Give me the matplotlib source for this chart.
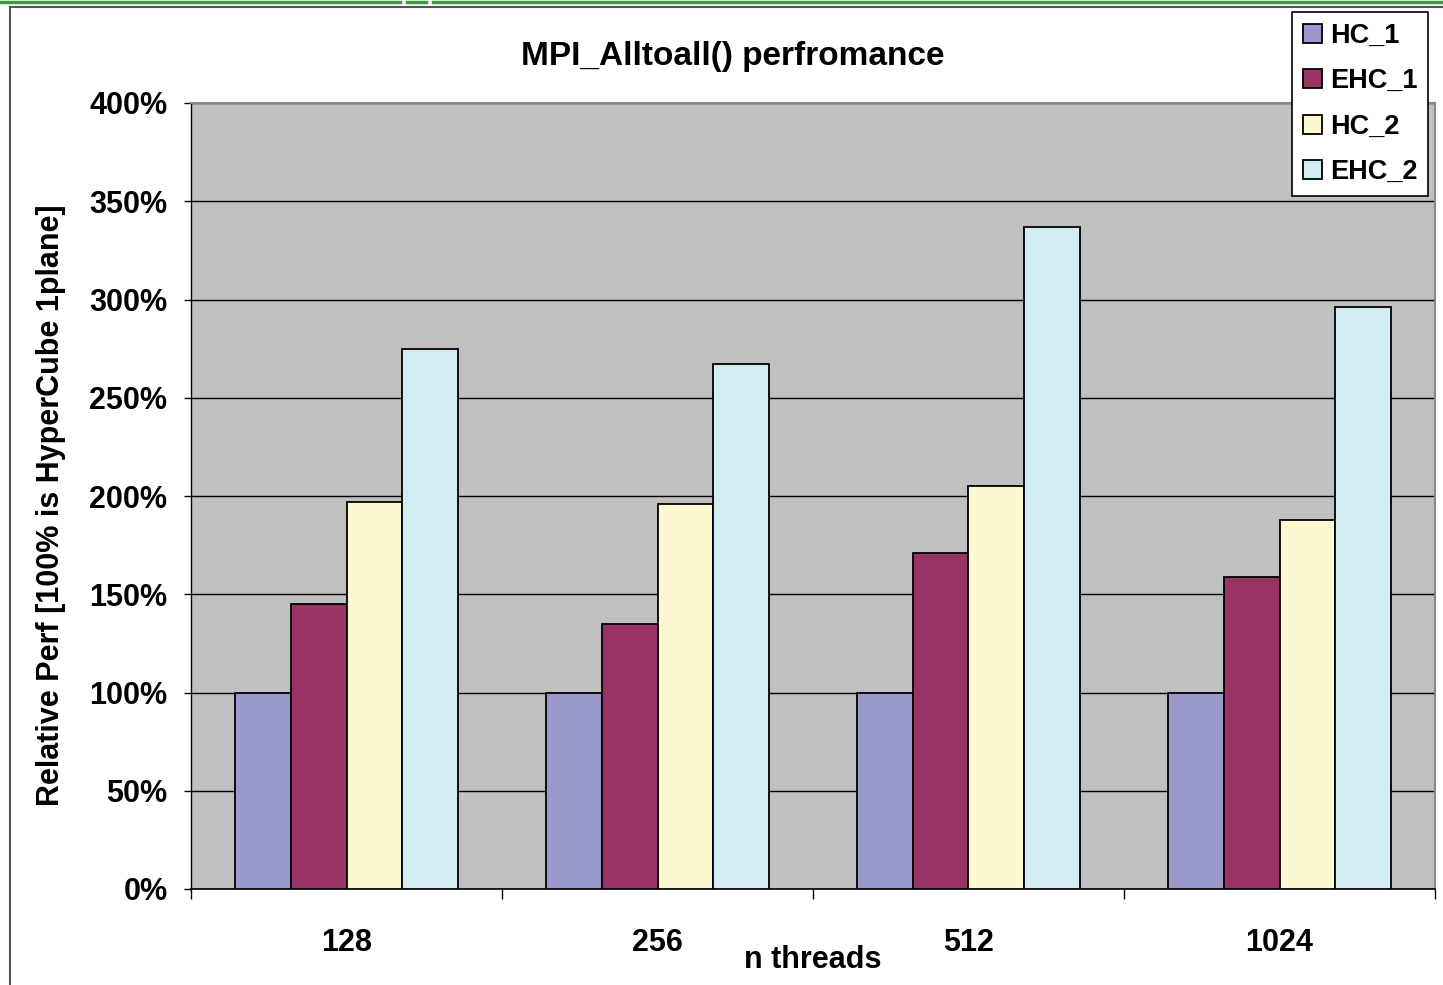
import numpy as np
import matplotlib
matplotlib.use("Agg")
import matplotlib.pyplot as plt
from matplotlib.lines import Line2D
from matplotlib.ticker import FuncFormatter, MultipleLocator

plt.rcParams['font.family'] = ['Liberation Sans', 'DejaVu Sans']
plt.rcParams['font.weight'] = 'bold'

categories = ['128', '256', '512', '1024']
series_names = ['HC_1', 'EHC_1', 'HC_2', 'EHC_2']
hc_1 = [100, 100, 100, 100]
ehc_1 = [145, 135, 171, 159]
hc_2 = [197, 196, 205, 188]
ehc_2 = [275, 267, 337, 296]
colors = ['#9999CC', '#993366', '#FCF8D0', '#D3EBF2']

W, H = 1443, 985
fig = plt.figure(figsize=(W / 100, H / 100), dpi=100)

# chart frame + green top strip
fig.add_artist(Line2D([10 / W, 10 / W], [0, 1 - 7 / H], color='#555555', lw=1.5))
fig.add_artist(Line2D([10 / W, 1], [1 - 7 / H, 1 - 7 / H], color='#555555', lw=1.5))
for x0, x1 in [(0, 400), (407, 426), (433, W)]:
    fig.add_artist(Line2D([x0 / W, x1 / W], [1 - 1.5 / H, 1 - 1.5 / H], color='#3C9A3C', lw=2.5))

ax = fig.add_axes([191 / W, (H - 889) / H, (1435 - 191) / W, (889 - 103) / H])
ax.set_facecolor('#C0C0C0')

x = np.arange(len(categories))
bw = 0.18
data = [hc_1, ehc_1, hc_2, ehc_2]
for i, (vals, name, c) in enumerate(zip(data, series_names, colors)):
    ax.bar(x + (i - 1.5) * bw, vals, width=bw, color=c, edgecolor='black',
           linewidth=1.3, label=name, zorder=3)

ax.set_xlim(-0.5, 3.5)
ax.set_ylim(0, 400)
ax.yaxis.set_major_locator(MultipleLocator(50))
ax.yaxis.set_major_formatter(FuncFormatter(lambda v, p: f'{int(v)}%'))
ax.grid(axis='y', color='black', lw=1, zorder=1)
ax.set_axisbelow(True)

ax.set_xticks(x)
ax.set_xticklabels(categories)
ax.set_xticks(np.arange(-0.5, 4.0, 1.0), minor=True)
ax.tick_params(axis='x', which='major', length=0, pad=28, labelsize=22)
ax.tick_params(axis='x', which='minor', length=7, width=1, direction='out')
ax.tick_params(axis='y', length=5, width=1, direction='out', pad=12, labelsize=22)

for s in ['top', 'right']:
    ax.spines[s].set_color('#888888')
    ax.spines[s].set_linewidth(1.5)
ax.spines['left'].set_linewidth(1)
ax.spines['bottom'].set_linewidth(1.2)

fig.text(733 / W, 1 - 56 / H, 'MPI_Alltoall() perfromance', ha='center', va='center',
         fontsize=24, fontweight='bold')
fig.text(813 / W, 1 - 960 / H, 'n threads', ha='center', va='center',
         fontsize=22, fontweight='bold')
fig.text(51 / W, 1 - 505 / H, 'Relative Perf [100% is HyperCube 1plane]', ha='center',
         va='center', rotation=90, fontsize=22, fontweight='bold')

handles, labels = ax.get_legend_handles_labels()
leg = fig.legend(handles, labels, loc='upper right', bbox_to_anchor=(1428 / W, 1 - 12 / H),
                 fontsize=19.5, frameon=True, fancybox=False, edgecolor='black',
                 framealpha=1, handlelength=0.7, handleheight=0.7, handletextpad=0.3,
                 labelspacing=0.72, borderpad=0.4, borderaxespad=0)
leg.get_frame().set_linewidth(1.2)

fig.savefig('out.png', dpi=100, facecolor='white')
